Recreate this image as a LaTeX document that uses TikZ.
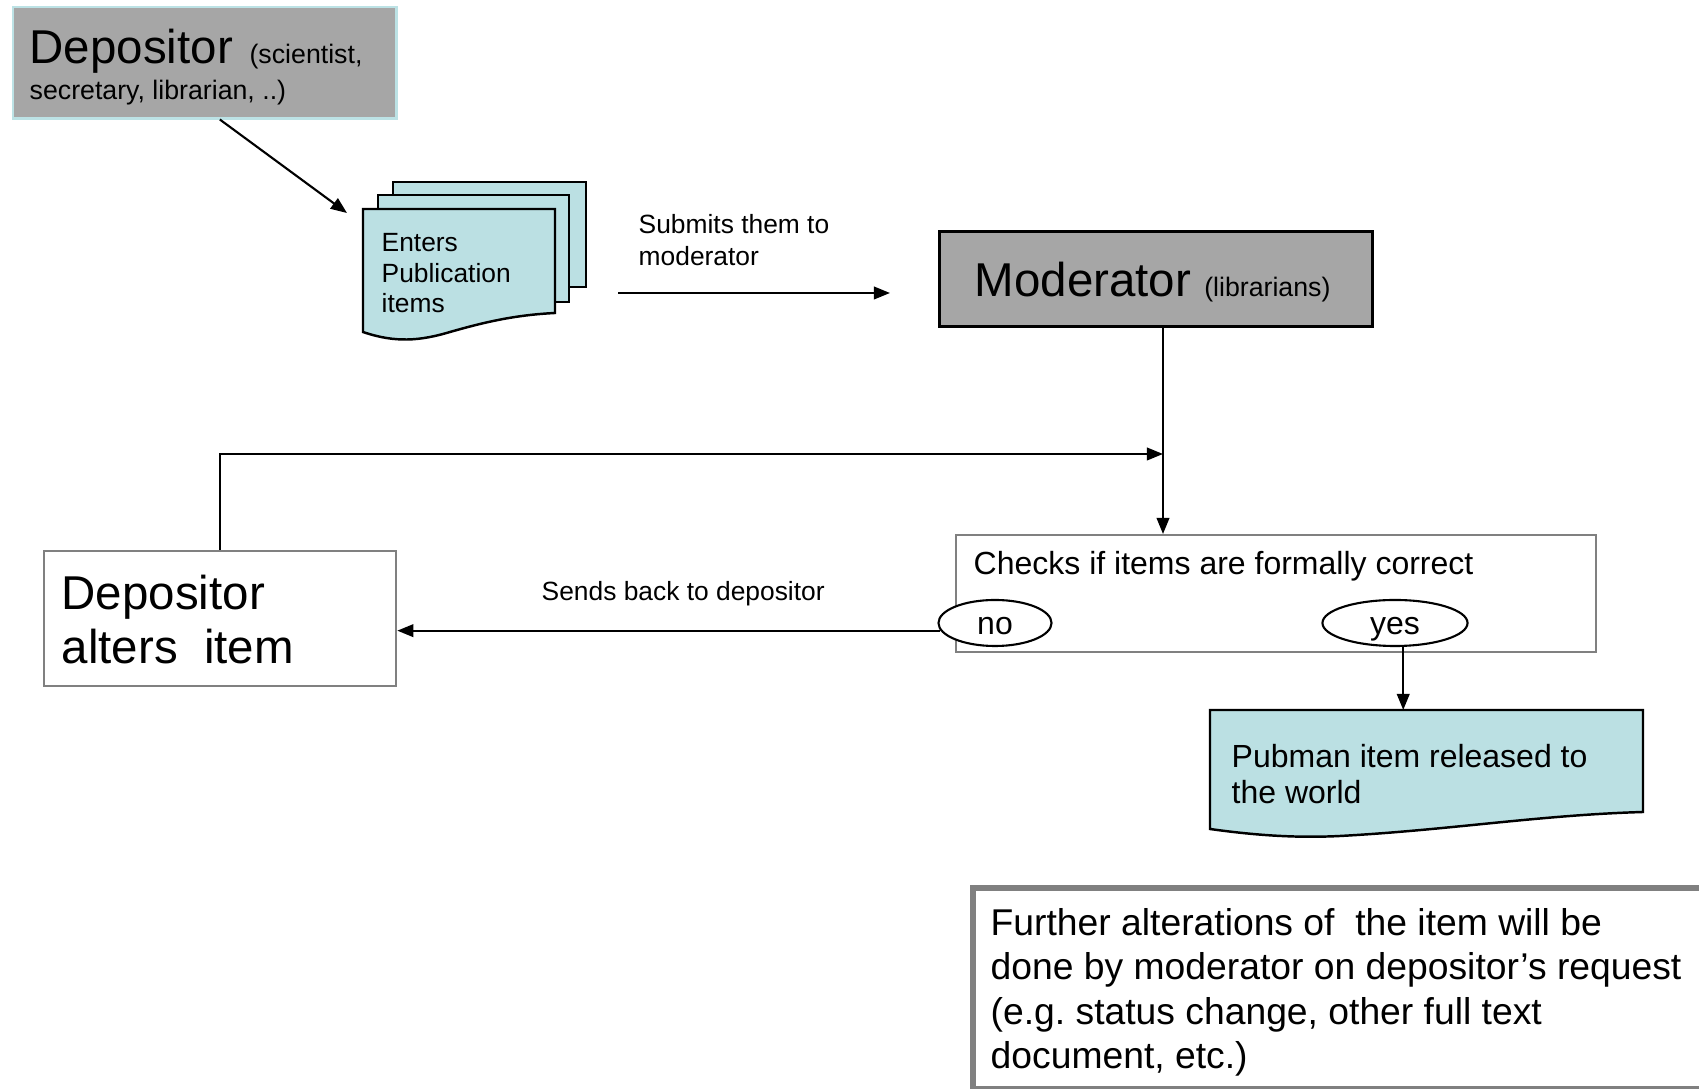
\documentclass[tikz,border=0pt]{standalone}
\usepackage{fontspec}
\setmainfont{Liberation Sans}
\frenchspacing
\usetikzlibrary{arrows.meta,shapes.geometric}
\definecolor{boxgrey}{HTML}{A6A6A6}
\definecolor{paper}{HTML}{BBE0E3}
\definecolor{edgecyan}{HTML}{BCE2E5}
\definecolor{framegrey}{HTML}{808080}
\tikzset{
  arr/.style={-{Triangle[length=4.6pt,width=3.6pt]}, line width=0.6pt},
  greybox/.style={draw, fill=boxgrey, anchor=north west},
  whitebox/.style={draw=framegrey, line width=0.6pt, anchor=north west},
  txt/.style={anchor=base west, align=left, inner sep=0pt},
  choice/.style={draw, ellipse, fill=white, line width=0.6pt, inner sep=0pt,
    text height=6.6pt, text depth=0pt, font=\fontsize{9.1}{11}\selectfont},
}

\begin{document}
\begin{tikzpicture}[x=0.01cm, y=-0.01cm]
    \useasboundingbox (0,0) rectangle (1699,1089);
    \clip (0,0) rectangle (1699,1089);

    % depositor (last line on the given baseline)
    \node[greybox, draw=edgecyan, line width=0.7pt, minimum width=3.83cm, minimum height=1.11cm] (dep) at (12,6) {};
    \node[txt, font=\fontsize{7.6}{10.5}\selectfont] (deptext) at (29,100)
        {{\fontsize{13.5}{16}\selectfont Depositor\ }\hspace{1pt}(scientist,\\secretary, librarian, ..)};

    % stacked publication items
    \draw[fill=paper, line width=0.7pt] (393,182) rectangle (586,287);
    \draw[fill=paper, line width=0.7pt] (378,195) rectangle (569,302);
    \draw[fill=paper, line width=0.7pt] (363,209) -- (555,209) -- (555,313)
        .. controls (515,315) and (485,322) .. (450,332)
        .. controls (420,341) and (395,343) .. (363,332) -- cycle;
    \node[txt, font=\fontsize{7.5}{8.8}\selectfont] (enter) at (381,313) {Enters\\Publication\\items};
    \coordinate (pages) at (347,213);
    \draw[arr] ([xshift=0.15cm]dep.south) -- (pages);

    % submit
    \node[txt, font=\fontsize{7.5}{9.2}\selectfont] (submit) at (638,266) {Submits them to\\moderator};
    \coordinate (sendfrom) at (618,293);
    \coordinate (sendto) at (890,293);
    \draw[arr] (sendfrom) -- (sendto);

    % moderator
    \node[greybox, line width=0.8pt, minimum width=4.33cm, minimum height=0.95cm] (mod) at (938,230) {};
    \node[txt, font=\fontsize{13.5}{16}\selectfont] (modtext) at (974,297)
        {Moderator \fontsize{7.6}{9}\selectfont(librarians)};

    % check
    \node[whitebox, minimum width=6.4cm, minimum height=1.17cm] (check) at (955,534) {};
    \node[txt, font=\fontsize{9.1}{11}\selectfont] (checktext) at (973,575) {Checks if items are formally correct};
    \node[choice, minimum width=1.13cm, minimum height=0.46cm] (no) at (995,623) {no};
    \node[choice, minimum width=1.45cm, minimum height=0.46cm] (yes) at (1395,623) {yes};

    \coordinate (loopin) at (1163,454);
    \draw[arr] (mod.south -| loopin) -- (loopin |- check.north);

    % depositor alters
    \node[whitebox, minimum width=3.52cm, minimum height=1.35cm] (alter) at (43,550) {};
    \node[txt, font=\fontsize{13.5}{15.6}\selectfont] (altertext) at (61,664) {Depositor\\alters\ \ item};
    \draw[arr] (alter.north) |- (loopin);

    \node[txt, font=\fontsize{7.5}{9}\selectfont] (sendback) at (541,601) {Sends back to depositor};
    \draw[arr] (no.188) -- (no.188 -| alter.east);

    % released
    \draw[fill=paper, line width=0.7pt] (1210,710) -- (1643,710) -- (1643,812)
        .. controls (1540,815) and (1450,830) .. (1340,836)
        .. controls (1300,838) and (1260,836) .. (1210,829) -- cycle;
    \node[txt, font=\fontsize{9.1}{10.5}\selectfont] (pub) at (1231,804) {Pubman item released to\\the world};
    \coordinate (pubtop) at (1403,710);
    \draw[arr] (yes.-71) -- (yes.-71 |- pubtop);

    % note
    \node[draw=framegrey, line width=1.7pt, minimum width=7.5cm, minimum height=2.01cm, anchor=north west] (note) at (970,885) {};
    \node[txt, font=\fontsize{10.6}{12.7}\selectfont] (notetext) at (990,1069)
        {Further alterations of\ \ the item will be\\done by moderator on depositor’s request\\(e.g. status change, other full text\\document, etc.)};
\end{tikzpicture}
\end{document}
